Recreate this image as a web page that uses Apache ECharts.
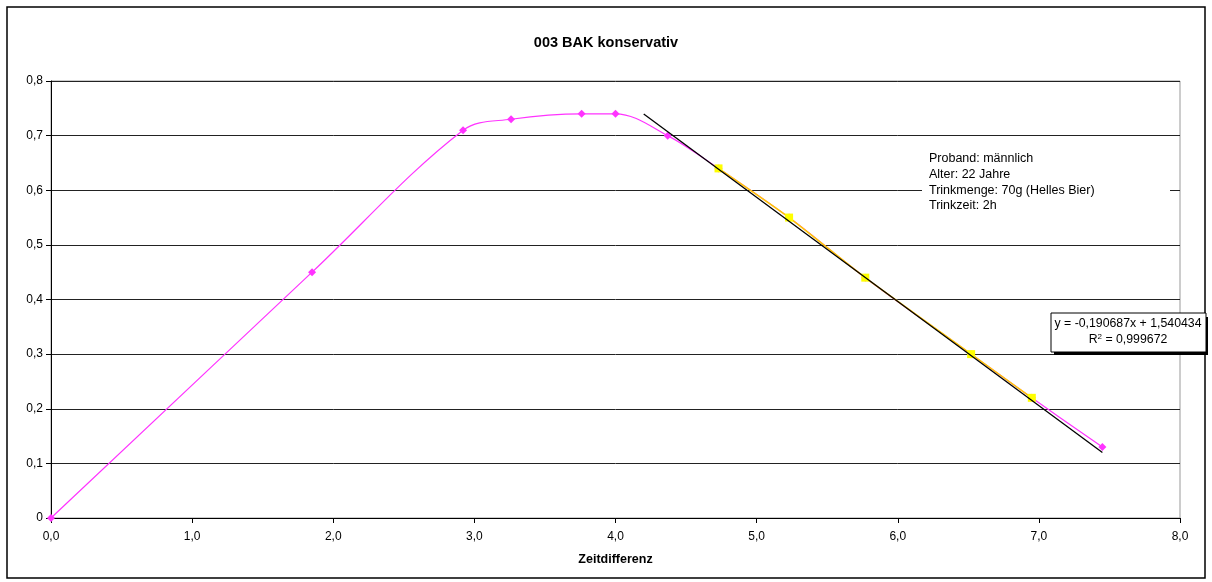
<!DOCTYPE html>
<html><head><meta charset="utf-8">
<script src="https://cdn.jsdelivr.net/npm/echarts@6/dist/echarts.min.js"></script>
<style>html,body{margin:0;padding:0;background:#fff}#c{width:1212px;height:582px}</style>
</head><body><div id="c"></div>
<script>
const titleText = '003 BAK konservativ';
const xAxisName = 'Zeitdifferenz';
const allX = [0, 1.85, 2.92, 3.26, 3.76, 4.0, 4.37, 4.73, 5.23, 5.77, 6.52, 6.95, 7.45];
const allY = [0, 0.45, 0.71, 0.73, 0.74, 0.74, 0.70, 0.64, 0.55, 0.44, 0.30, 0.22, 0.13];
const fitX = [4.73, 5.23, 5.77, 6.52, 6.95];
const fitY = [0.64, 0.55, 0.44, 0.30, 0.22];
const trendSlope = -0.190687;
const trendIntercept = 1.540434;
const trendRangeX = [4.2, 7.45];
const rSquared = '0,999672';
const infoLines = ['Proband: männlich', 'Alter: 22 Jahre', 'Trinkmenge: 70g (Helles Bier)', 'Trinkzeit: 2h'];

const FONT = '"Liberation Sans", Arial, sans-serif';
const fmt = v => v.toFixed(1).replace('.', ',');
const fmtCoef = v => v.toFixed(6).replace('.', ',');

const chart = echarts.init(document.getElementById('c'), null, {renderer: 'canvas'});
const pinkData = allX.map((x, i) => [x, allY[i]]);
const yellowData = fitX.map((x, i) => [x, fitY[i]]);
const trendData = trendRangeX.map(x => [x, trendSlope * x + trendIntercept]);
const eqText = 'y = ' + fmtCoef(trendSlope) + 'x + ' + fmtCoef(trendIntercept);

chart.setOption({
  animation: false,
  backgroundColor: '#fff',
  title: {text: titleText, left: 'center', top: 30,
    textStyle: {fontFamily: FONT, fontSize: 14.5, fontWeight: 'bold', color: '#000'}},
  grid: {left: 51, right: 32, top: 81, bottom: 64, show: true, borderColor: '#999', borderWidth: 1, backgroundColor: 'transparent'},
  xAxis: {type: 'value', min: 0, max: 8, interval: 1,
    name: xAxisName, nameLocation: 'middle', nameGap: 35,
    nameTextStyle: {fontFamily: FONT, fontSize: 12.5, fontWeight: 'bold', color: '#000'},
    axisLine: {show: true, onZero: false, lineStyle: {color: '#000', width: 1}},
    axisTick: {show: true, length: 5, inside: false, lineStyle: {color: '#000'}},
    axisLabel: {formatter: fmt, fontFamily: FONT, fontSize: 12, color: '#000', margin: 13},
    splitLine: {show: false}},
  yAxis: {type: 'value', min: 0, max: 0.8, interval: 0.1,
    axisLine: {show: true, onZero: false, lineStyle: {color: '#000', width: 1}},
    axisTick: {show: true, length: 5, inside: false, lineStyle: {color: '#000'}},
    axisLabel: {formatter: v => v === 0 ? '0' : fmt(v), fontFamily: FONT, fontSize: 12, color: '#000', margin: 8},
    splitLine: {show: true, lineStyle: {color: '#222', width: 1}}},
  series: [
    {type: 'line', data: pinkData, smooth: 0.35, symbol: 'diamond', symbolSize: 8,
      lineStyle: {color: '#FF33FF', width: 1.2}, itemStyle: {color: '#FF33FF'}, z: 3},
    {type: 'line', data: yellowData, smooth: 0.2, symbol: 'rect', symbolSize: 8,
      lineStyle: {color: '#FFCC00', width: 1.5}, itemStyle: {color: '#FFFF00'}, z: 4},
    {type: 'line', data: trendData, symbol: 'none',
      lineStyle: {color: '#000', width: 1.3}, z: 5}
  ],
  graphic: [
    {type: 'rect', shape: {x: 7, y: 7, width: 1198, height: 571}, style: {fill: 'none', stroke: '#000', lineWidth: 1.5}, z: 1, silent: true},
    {type: 'rect', shape: {x: 922, y: 150, width: 248, height: 64}, style: {fill: '#fff'}, z: 10},
    {type: 'text', left: 929, top: 151, z: 11,
      style: {text: infoLines.join('\n'), font: '12.5px ' + FONT, fill: '#000', lineHeight: 15.7}},
    {type: 'rect', shape: {x: 1054, y: 317, width: 154, height: 38}, style: {fill: '#000'}, z: 10},
    {type: 'rect', shape: {x: 1051, y: 313, width: 155, height: 39}, style: {fill: '#fff', stroke: '#000', lineWidth: 1}, z: 11},
    {type: 'text', x: 1128, y: 318, z: 12,
      style: {text: eqText, font: '12.3px ' + FONT, fill: '#000', align: 'center'}},
    {type: 'text', x: 1128, y: 333, z: 12,
      style: {text: 'R{sup|2} = ' + rSquared, font: '12.3px ' + FONT, fill: '#000', align: 'center',
        rich: {sup: {fontSize: 8, verticalAlign: 'top', padding: [0,0,6,0], fontFamily: FONT}}}}
  ]
});
</script></body></html>
